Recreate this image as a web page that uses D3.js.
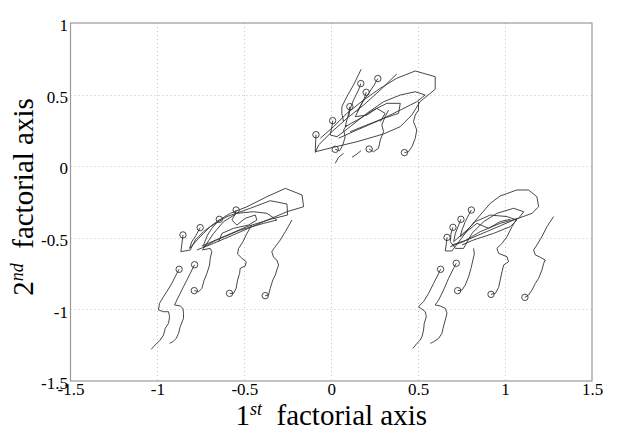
<!DOCTYPE html>
<html>
<head>
<meta charset="utf-8">
<script src="https://cdn.jsdelivr.net/npm/d3@7"></script>
<style>
  html, body { margin: 0; padding: 0; background: #fff; }
  svg { display: block; }
  svg text { font-family: "Liberation Serif", Tinos, "Times New Roman", Times, serif !important; }
</style>
</head>
<body>
<svg id="chart" width="621" height="438"></svg>
<script>
// ---------- data ----------
const xTicks = [-1.5, -1, -0.5, 0, 0.5, 1, 1.5];
const xTickLabels = ["-1.5", "-1", "-0.5", "0", "0.5", "1", "1.5"];
const yTicks = [-1.5, -1, -0.5, 0, 0.5, 1];
const yTickLabels = ["-1.5", "-1", "-0.5", "0", "0.5", "1"];

// starting points (circles) of each trajectory, per group
const leftStarts = [[-0.853,-0.480],[-0.754,-0.429],[-0.644,-0.371],[-0.547,-0.306],[-0.875,-0.720],[-0.786,-0.688],[-0.788,-0.869],[-0.585,-0.888],[-0.380,-0.904]];
const topStarts = [[-0.088,0.220],[0.008,0.318],[0.107,0.416],[0.170,0.577],[0.201,0.516],[0.268,0.612],[0.023,0.118],[0.218,0.120],[0.421,0.095]];
const rightStarts = [[0.666,-0.497],[0.700,-0.427],[0.746,-0.371],[0.806,-0.306],[0.629,-0.720],[0.719,-0.678],[0.727,-0.869],[0.919,-0.895],[1.114,-0.916]];

// trajectories, per group
const leftTracks = [
 [[-0.875,-0.720],[-0.888,-0.748],[-0.917,-0.818],[-0.946,-0.876],[-0.965,-0.911],[-0.988,-0.958],[-0.994,-1.004],[-0.965,-1.016],[-0.936,-1.016],[-0.930,-1.051],[-0.936,-1.097],[-0.955,-1.132],[-0.965,-1.179],[-0.984,-1.214],[-1.003,-1.237],[-1.022,-1.260],[-1.036,-1.279]],
 [[-0.786,-0.688],[-0.802,-0.725],[-0.830,-0.795],[-0.850,-0.841],[-0.869,-0.888],[-0.888,-0.934],[-0.901,-0.969],[-0.869,-0.976],[-0.853,-0.993],[-0.850,-1.027],[-0.850,-1.063],[-0.869,-1.121],[-0.878,-1.167],[-0.892,-1.202],[-0.911,-1.226],[-0.930,-1.237]],
 [[-0.788,-0.869],[-0.763,-0.876],[-0.744,-0.853],[-0.731,-0.795],[-0.715,-0.748],[-0.700,-0.690],[-0.696,-0.643],[-0.687,-0.597],[-0.696,-0.574],[-0.744,-0.585]],
 [[-0.585,-0.888],[-0.562,-0.888],[-0.547,-0.853],[-0.539,-0.795],[-0.527,-0.748],[-0.524,-0.713],[-0.495,-0.697],[-0.489,-0.667],[-0.514,-0.643],[-0.539,-0.613],[-0.533,-0.574],[-0.508,-0.527],[-0.485,-0.469],[-0.457,-0.411]],
 [[-0.380,-0.904],[-0.361,-0.900],[-0.351,-0.853],[-0.336,-0.795],[-0.322,-0.760],[-0.313,-0.725],[-0.303,-0.690],[-0.313,-0.655],[-0.332,-0.636],[-0.342,-0.597],[-0.322,-0.562],[-0.293,-0.515],[-0.264,-0.457],[-0.226,-0.376]],
 [[-0.853,-0.480],[-0.859,-0.539],[-0.865,-0.597],[-0.811,-0.585],[-0.782,-0.515],[-0.735,-0.457],[-0.658,-0.387],[-0.581,-0.329],[-0.485,-0.283],[-0.370,-0.213],[-0.264,-0.155],[-0.168,-0.201],[-0.159,-0.283],[-0.255,-0.318],[-0.389,-0.387],[-0.543,-0.469],[-0.677,-0.539],[-0.773,-0.585]],
 [[-0.754,-0.429],[-0.777,-0.481],[-0.802,-0.527],[-0.815,-0.574],[-0.763,-0.504],[-0.696,-0.422],[-0.600,-0.352],[-0.466,-0.294],[-0.351,-0.241],[-0.255,-0.264],[-0.251,-0.341],[-0.351,-0.371],[-0.485,-0.422],[-0.619,-0.492],[-0.744,-0.557]],
 [[-0.644,-0.371],[-0.662,-0.399],[-0.687,-0.434],[-0.712,-0.481],[-0.731,-0.539],[-0.735,-0.574],[-0.677,-0.469],[-0.619,-0.387],[-0.543,-0.329],[-0.447,-0.318],[-0.370,-0.329],[-0.313,-0.376],[-0.389,-0.399],[-0.524,-0.446],[-0.658,-0.515],[-0.731,-0.562]],
 [[-0.547,-0.306],[-0.555,-0.341],[-0.572,-0.376],[-0.543,-0.411],[-0.495,-0.364],[-0.437,-0.341],[-0.428,-0.376],[-0.476,-0.411],[-0.562,-0.434],[-0.629,-0.469],[-0.648,-0.527]]
];

const topTracks = [
 [[-0.088,0.220],[-0.092,0.101],[0.013,0.132],[0.148,0.171],[0.301,0.225],[0.397,0.276],[0.464,0.358],[0.511,0.451],[0.598,0.537],[0.598,0.625],[0.483,0.665],[0.377,0.614],[0.282,0.544],[0.186,0.462],[0.090,0.369],[0.013,0.276],[-0.063,0.195]],
 [[0.008,0.318],[0.004,0.276],[-0.006,0.218],[0.033,0.206],[0.109,0.276],[0.205,0.369],[0.301,0.450],[0.397,0.497],[0.483,0.520],[0.540,0.497],[0.492,0.450],[0.397,0.392],[0.282,0.323],[0.148,0.253],[0.042,0.195]],
 [[0.107,0.416],[0.100,0.369],[0.090,0.323],[0.080,0.276],[0.167,0.334],[0.243,0.392],[0.320,0.439],[0.397,0.439],[0.387,0.369],[0.301,0.334],[0.205,0.288],[0.109,0.241]],
 [[0.201,0.516],[0.190,0.474],[0.167,0.416],[0.138,0.346],[0.205,0.357],[0.262,0.404],[0.310,0.369],[0.282,0.311]],
 [[0.170,0.577],[0.157,0.532],[0.128,0.462],[0.109,0.400],[0.100,0.346]],
 [[0.268,0.612],[0.247,0.567],[0.215,0.509],[0.176,0.439],[0.148,0.380]],
 [[0.172,0.677],[0.128,0.567],[0.090,0.486],[0.061,0.416],[0.061,0.369],[0.071,0.311]],
 [[0.377,0.644],[0.282,0.532],[0.186,0.427],[0.090,0.334],[0.004,0.241],[-0.073,0.148],[-0.092,0.095]],
 [[0.421,0.095],[0.444,0.101],[0.464,0.136],[0.483,0.194],[0.492,0.253],[0.473,0.311],[0.483,0.357],[0.502,0.392],[0.502,0.450]],
 [[0.218,0.120],[0.243,0.101],[0.272,0.125],[0.282,0.183],[0.301,0.241],[0.291,0.288],[0.310,0.346],[0.330,0.392]],
 [[0.023,0.118],[0.048,0.108],[0.067,0.148],[0.080,0.206],[0.071,0.253],[0.090,0.288]],
 [[0.071,0.090],[0.042,0.062],[0.023,0.020]],
 [[0.119,0.062],[0.148,0.085],[0.171,0.108]]
];

const rightTracks = [
 [[0.629,-0.720],[0.618,-0.748],[0.589,-0.818],[0.560,-0.888],[0.531,-0.946],[0.502,-0.981],[0.516,-0.993],[0.541,-1.016],[0.547,-1.051],[0.535,-1.097],[0.531,-1.144],[0.522,-1.191],[0.512,-1.214],[0.493,-1.237],[0.470,-1.272]],
 [[0.719,-0.678],[0.704,-0.713],[0.675,-0.783],[0.646,-0.865],[0.618,-0.934],[0.598,-0.969],[0.627,-0.976],[0.656,-0.993],[0.666,-1.027],[0.656,-1.074],[0.643,-1.132],[0.637,-1.167],[0.618,-1.202],[0.589,-1.226],[0.570,-1.237]],
 [[0.727,-0.869],[0.752,-0.865],[0.771,-0.830],[0.790,-0.772],[0.804,-0.713],[0.815,-0.655],[0.823,-0.613],[0.819,-0.574]],
 [[0.919,-0.895],[0.944,-0.888],[0.963,-0.846],[0.972,-0.795],[0.982,-0.737],[0.992,-0.690],[1.020,-0.667],[1.011,-0.632],[0.963,-0.609],[0.953,-0.574],[0.982,-0.539],[1.011,-0.492],[1.040,-0.422],[1.068,-0.364]],
 [[1.114,-0.916],[1.135,-0.900],[1.155,-0.865],[1.174,-0.818],[1.193,-0.783],[1.212,-0.725],[1.222,-0.678],[1.231,-0.655],[1.203,-0.636],[1.174,-0.620],[1.164,-0.585],[1.183,-0.550],[1.212,-0.492],[1.241,-0.422],[1.279,-0.352]],
 [[0.666,-0.497],[0.662,-0.543],[0.656,-0.592],[0.694,-0.592],[0.742,-0.515],[0.800,-0.422],[0.857,-0.341],[0.915,-0.259],[0.972,-0.208],[1.068,-0.166],[1.135,-0.166],[1.183,-0.213],[1.193,-0.283],[1.155,-0.329],[1.049,-0.376],[0.915,-0.446],[0.781,-0.515],[0.694,-0.550]],
 [[0.700,-0.427],[0.689,-0.469],[0.685,-0.527],[0.714,-0.574],[0.761,-0.574],[0.809,-0.469],[0.877,-0.387],[0.953,-0.329],[1.049,-0.294],[1.107,-0.318],[1.078,-0.364],[0.972,-0.399],[0.857,-0.457],[0.761,-0.527],[0.685,-0.562]],
 [[0.746,-0.371],[0.733,-0.411],[0.714,-0.469],[0.704,-0.527],[0.781,-0.446],[0.829,-0.387],[0.915,-0.341],[1.011,-0.352],[1.068,-0.376],[1.030,-0.422],[0.934,-0.469],[0.819,-0.515],[0.752,-0.550]],
 [[0.806,-0.306],[0.790,-0.341],[0.771,-0.387],[0.752,-0.446],[0.742,-0.492],[0.838,-0.399],[0.905,-0.434],[0.972,-0.387],[1.030,-0.371]]
];

// ---------- drawing ----------
const svg = d3.select("#chart");
const W = 621, H = 438;
const plot = { left: 70.5, right: 592, top: 23, bottom: 381 };
const FONT = "Liberation Serif, Tinos, Times New Roman, Times, serif";

const x = d3.scaleLinear().domain([-1.5, 1.5]).range([plot.left, plot.right]);
const y = d3.scaleLinear().domain([-1.5, 1]).range([plot.bottom, plot.top]);

svg.append("rect").attr("width", W).attr("height", H).attr("fill", "#fff");

// grid
const grid = svg.append("g").attr("stroke", "#c4c4c4").attr("stroke-width", 1)
  .attr("stroke-dasharray", "1,3");
grid.selectAll("line.gx").data(xTicks.filter(v => v > -1.5 && v < 1.5)).join("line")
  .attr("x1", d => Math.round(x(d)) + 0.5).attr("x2", d => Math.round(x(d)) + 0.5)
  .attr("y1", plot.top).attr("y2", plot.bottom);
grid.selectAll("line.gy").data(yTicks.filter(v => v > -1.5 && v < 1)).join("line")
  .attr("y1", d => Math.round(y(d)) + 0.5).attr("y2", d => Math.round(y(d)) + 0.5)
  .attr("x1", plot.left).attr("x2", plot.right);

// trajectories
const line = d3.line().x(d => x(d[0])).y(d => y(d[1]));
const tracks = [].concat(leftTracks, topTracks, rightTracks);
svg.append("g").selectAll("path").data(tracks).join("path")
  .attr("d", line).attr("fill", "none").attr("stroke", "#333")
  .attr("stroke-width", 0.9).attr("stroke-linejoin", "round");

const starts = [].concat(leftStarts, topStarts, rightStarts);
svg.append("g").selectAll("circle").data(starts).join("circle")
  .attr("cx", d => x(d[0])).attr("cy", d => y(d[1])).attr("r", 3.2)
  .attr("fill", "none").attr("stroke", "#333").attr("stroke-width", 0.9);

// box
svg.append("rect").attr("x", plot.left).attr("y", plot.top)
  .attr("width", plot.right - plot.left).attr("height", plot.bottom - plot.top)
  .attr("fill", "none").attr("stroke", "#9a9a9a").attr("stroke-width", 1.2);

// axes (labels only)
const xAxis = d3.axisBottom(x).tickValues(xTicks).tickFormat((d, i) => xTickLabels[i])
  .tickSize(0).tickPadding(2);
const gx = svg.append("g").attr("transform", `translate(0,${plot.bottom})`).call(xAxis);
gx.attr("font-family", FONT);
gx.select(".domain").remove();
gx.selectAll("text").attr("font-family", FONT).attr("font-size", 17).attr("fill", "#000");

const yAxis = d3.axisLeft(y).tickValues(yTicks).tickFormat((d, i) => yTickLabels[i])
  .tickSize(0).tickPadding(2.5);
const gy = svg.append("g").attr("transform", `translate(${plot.left},0)`).call(yAxis);
gy.attr("font-family", FONT);
gy.select(".domain").remove();
gy.selectAll("text").attr("font-family", FONT).attr("font-size", 17).attr("fill", "#000")
  .attr("dy", "0.45em");

// axis titles
const xt = svg.append("text").attr("x", (plot.left + plot.right) / 2).attr("y", 425)
  .attr("text-anchor", "middle").attr("font-family", FONT).attr("font-size", 29).attr("fill", "#000");
xt.append("tspan").text("1");
xt.append("tspan").attr("font-style", "italic").attr("font-size", 18).attr("dy", -10).text("st");
xt.append("tspan").attr("dy", 10).text("\u00a0\u00a0factorial axis");

const yt = svg.append("text").attr("transform", "translate(33,197) rotate(-90)")
  .attr("text-anchor", "middle").attr("font-family", FONT).attr("font-size", 29).attr("fill", "#000");
yt.append("tspan").text("2");
yt.append("tspan").attr("font-style", "italic").attr("font-size", 18).attr("dy", -10).text("nd");
yt.append("tspan").attr("dy", 10).text("\u00a0\u00a0factorial axis");
</script>
</body>
</html>
